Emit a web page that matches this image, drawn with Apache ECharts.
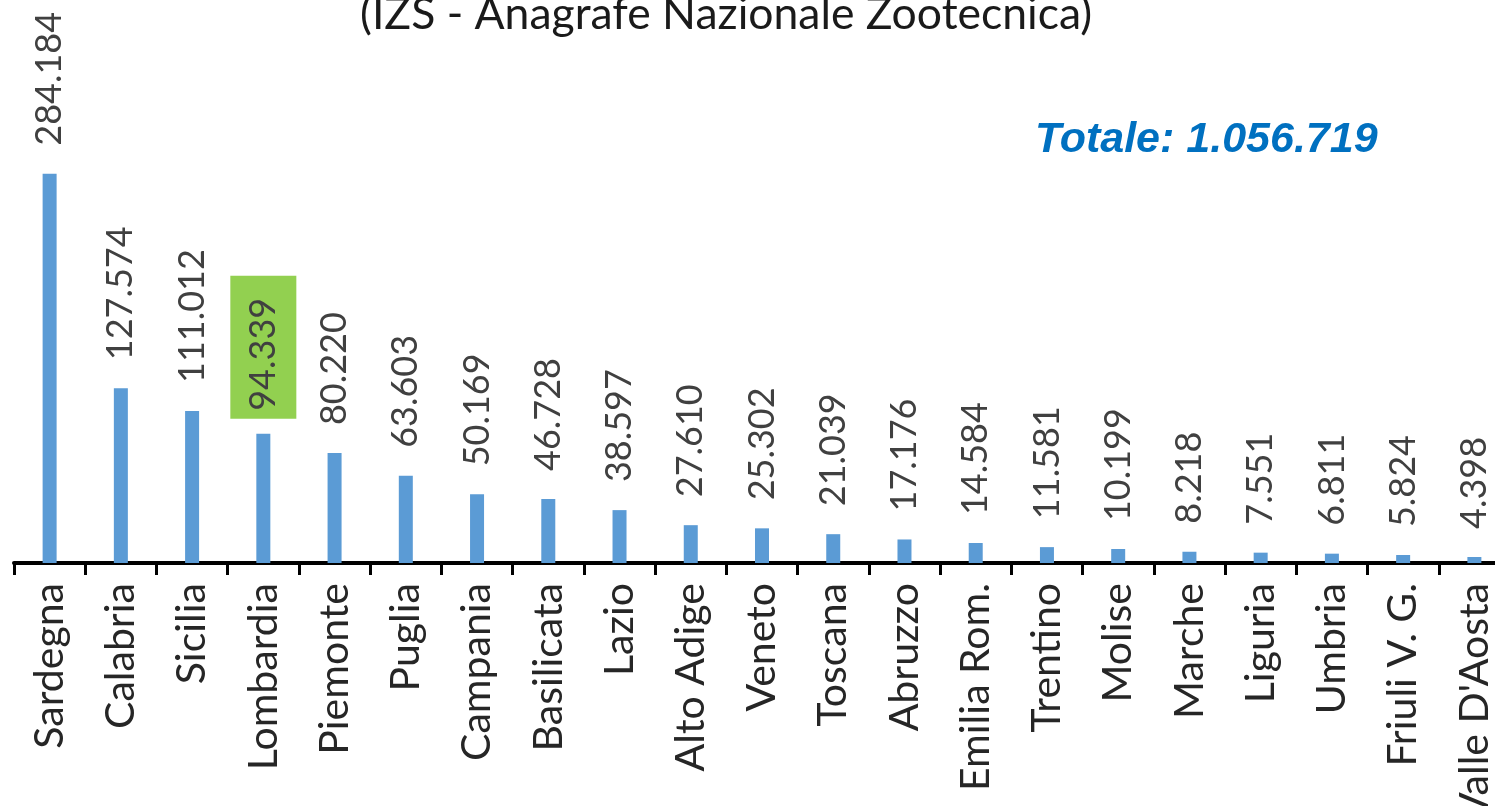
<!DOCTYPE html>
<html>
<head>
<meta charset="utf-8">
<script src="https://cdn.jsdelivr.net/npm/echarts@6/dist/echarts.min.js"></script>
<style>
html, body { margin: 0; padding: 0; background: #fff; }
#chart { width: 1495px; height: 806px; }
</style>
</head>
<body>
<div id="chart"></div>
<script>
var regions = ['Sardegna', 'Calabria', 'Sicilia', 'Lombardia', 'Piemonte', 'Puglia', 'Campania',
    'Basilicata', 'Lazio', 'Alto Adige', 'Veneto', 'Toscana', 'Abruzzo', 'Emilia Rom.',
    'Trentino', 'Molise', 'Marche', 'Liguria', 'Umbria', 'Friuli V. G.', "Valle D'Aosta"];
var heads = [284184, 127574, 111012, 94339, 80220, 63603, 50169, 46728, 38597, 27610,
    25302, 21039, 17176, 14584, 11581, 10199, 8218, 7551, 6811, 5824, 4398];
var highlighted = 'Lombardia';
var totalLabel = 'Totale: 1.056.719';

function fmt(v) {
    return String(v).replace(/\B(?=(\d{3})+(?!\d))/g, '.');
}

var barData = regions.map(function (r, i) {
    var d = { value: heads[i] };
    if (r === highlighted) {
        // green highlight box behind the label
        d.label = {
            backgroundColor: '#92D050',
            padding: [9, 22, 21, 8],
            lineHeight: 36,
            distance: 15
        };
    }
    return d;
});

var chart = echarts.init(document.getElementById('chart'));
chart.setOption({
    animation: false,
    title: {
        text: '(IZS - Anagrafe Nazionale Zootecnica)',
        left: 355,
        top: -13,
        textStyle: { fontFamily: 'Lato', fontSize: 44.5, fontWeight: 'normal', color: '#1a1a1a' }
    },
    graphic: [{
        type: 'text',
        left: 1035,
        top: 119,
        style: {
            text: totalLabel,
            font: 'italic bold 43px "Liberation Sans", Arial',
            fill: '#0070C0'
        }
    }],
    grid: { left: 14, right: -15, top: 15, bottom: 243, outerBoundsMode: 'none', containLabel: false },
    xAxis: {
        type: 'category',
        data: regions,
        axisLine: { show: true, lineStyle: { color: '#000', width: 4 } },
        axisTick: { show: true, length: 12, lineStyle: { color: '#000', width: 3 } },
        axisLabel: {
            rotate: 90, interval: 0, margin: 20,
            fontFamily: 'Lato', fontSize: 41, color: '#262626'
        }
    },
    yAxis: { type: 'value', min: 0, max: 400000, show: false },
    series: [{
        type: 'bar',
        data: barData,
        barWidth: 14,
        itemStyle: { color: '#5B9BD5' },
        label: {
            show: true,
            position: 'top',
            rotate: 90,
            align: 'left',
            verticalAlign: 'middle',
            distance: 28,
            fontFamily: 'Lato',
            fontSize: 36,
            color: '#404040',
            formatter: function (p) { return fmt(p.value); }
        }
    }]
});
</script>
</body>
</html>
